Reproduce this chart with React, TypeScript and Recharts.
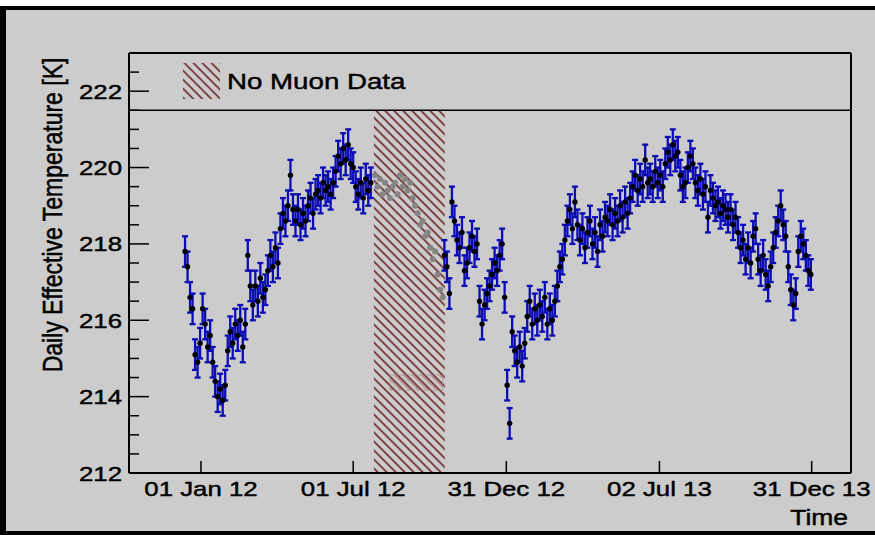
import React from 'react';
import {
  ScatterChart,
  Scatter,
  XAxis,
  YAxis,
  ErrorBar,
  ReferenceArea,
  ReferenceLine
} from 'recharts';

// days counted from 01 Jan 2012, one reading every 3 days
const STEP_DAYS = 3;

const firstRunStart = -19;
const firstRunTemp = [
  217.8, 217.4, 216.6, 216.3, 215.1, 214.9, 215.4, 216.3, 215.9, 215.3,
  215.6, 214.9, 214.4, 214.0, 214.2, 213.9, 214.3, 215.2, 215.7, 215.4,
  215.9, 215.6, 216.0, 215.3, 215.9, 217.7, 216.9, 216.4, 216.9, 216.5,
  217.1, 216.6, 216.8, 217.3, 217.7, 217.4, 217.9, 217.5, 218.4, 218.8,
  218.6, 219.0, 219.8, 218.9, 218.6, 218.9, 218.5, 218.8, 218.6, 219.0,
  219.2, 218.8, 219.3, 219.4, 219.2, 219.6, 219.4, 219.5, 219.3, 219.6,
  219.9, 220.3, 220.1, 220.5, 220.2, 220.6, 220.1, 220.0, 219.5, 219.3,
  219.6, 219.2, 219.7, 219.4, 219.6
];

// model values while the muon detector was off
const noMuonStart = 208;
const noMuonTemp = [
  219.8, 219.5, 219.7, 219.3, 219.6, 219.4, 219.2, 219.5, 219.6, 219.3,
  219.8, 219.5, 219.7, 219.4, 219.6, 219.2, 219.0, 218.8, 218.5, 218.6,
  218.2, 218.3, 217.9, 217.6, 217.8, 217.2, 216.8, 216.6
];

const secondRunStart = 291;
const secondRunTemp = [
  217.7, 217.4, 216.7, 219.1, 218.6, 218.1, 217.9, 218.3, 217.3, 217.5,
  217.9, 218.2, 217.8, 218.0, 216.5, 215.9, 216.4, 216.7, 216.9, 217.2,
  217.5, 217.3, 217.7, 218.0, 216.6, 214.3, 213.3, 215.7, 215.2, 214.9,
  215.3, 214.8, 215.4, 216.1, 216.5, 215.9, 216.3, 216.0, 216.4, 216.1,
  216.6, 215.9, 216.3, 216.0, 216.5, 216.9, 217.4, 217.6, 218.1, 218.6,
  218.9, 218.4, 219.1, 218.5, 218.1, 218.4, 217.9, 218.3, 218.6, 218.0,
  218.3, 217.8, 218.5, 218.2, 218.7, 218.6, 218.9, 218.5, 218.8, 218.6,
  219.0, 218.7, 219.1, 218.8, 219.2, 219.5, 219.8, 219.4, 219.7, 219.5,
  220.2, 219.6, 219.7, 219.5, 219.9, 219.6, 219.8, 219.5, 220.1, 220.4,
  220.2, 220.6, 220.3, 220.4, 219.8, 219.5, 219.6, 220.0, 220.3, 220.1,
  219.6, 219.4, 219.7, 219.3, 219.5, 218.7, 219.4, 219.2, 219.0, 219.1,
  218.8, 219.0, 218.9, 218.7, 218.9, 218.5, 218.7, 218.3, 217.9, 218.1,
  217.6, 217.9, 217.5, 218.2, 218.4, 217.6, 217.3, 217.7, 217.2, 216.9,
  217.4, 217.9, 218.3, 218.6, 219.0, 218.5, 218.2, 217.4, 216.8, 216.4,
  216.7, 217.8, 218.2, 218.0, 217.7, 217.3, 217.2
];

const tempError = 0.4;
const dayError = 1.2;

const xTicks = [0, 182, 365, 548, 730];
const xTickLabels = ['01 Jan 12', '01 Jul 12', '31 Dec 12', '02 Jul 13', '31 Dec 13'];
const yTicks = [
  212, 212.5, 213, 213.5, 214, 214.5, 215, 215.5, 216, 216.5, 217,
  217.5, 218, 218.5, 219, 219.5, 220, 220.5, 221, 221.5, 222, 222.5, 223
];
const yLabelTicks = [212, 214, 216, 218, 220, 222];

const noMuonDays = [206.7, 291.5];

const toPoints = (start: number, temps: number[]) =>
  temps.map((t, i) => ({ day: start + i * STEP_DAYS, t, err: tempError, dayErr: dayError }));

const measured = [
  ...toPoints(firstRunStart, firstRunTemp),
  ...toPoints(secondRunStart, secondRunTemp)
];
const noMuon = toPoints(noMuonStart, noMuonTemp);

const FONT = '"Liberation Sans", Arial, Helvetica, sans-serif';
const SX = 1.23; // the plot text is drawn a bit wide
const PLOT_LEFT = 129;
const PLOT_BOTTOM = 473;
const textStyle = { fontFamily: FONT, fill: '#000', stroke: '#000', strokeWidth: 0.45 };

const YTick = (props: any) => {
  const { y, payload } = props;
  const v = payload.value;
  const major = yLabelTicks.includes(v);
  return (
    <g>
      <line x1={PLOT_LEFT} x2={PLOT_LEFT + (major ? 20 : 10)} y1={y} y2={y} stroke="#000" strokeWidth={1.5} />
      {major && (
        <text
          transform={`translate(122,${y}) scale(${SX},1)`}
          textAnchor="end"
          dy="0.36em"
          fontSize={21}
          style={textStyle}
        >
          {v}
        </text>
      )}
    </g>
  );
};

const XTick = (props: any) => {
  const { x, payload } = props;
  const label = xTickLabels[xTicks.indexOf(payload.value)];
  return (
    <g>
      <line x1={x} x2={x} y1={PLOT_BOTTOM} y2={PLOT_BOTTOM - 12} stroke="#000" strokeWidth={1.5} />
      <text
        transform={`translate(${x},496) scale(${SX},1)`}
        textAnchor="middle"
        fontSize={21}
        style={textStyle}
      >
        {label}
      </text>
    </g>
  );
};

export default function App() {
  return (
    <div style={{ position: 'absolute', left: 0, top: 0, width: 875, height: 535, background: '#fff' }}>
      <svg width={0} height={0} style={{ position: 'absolute' }}>
        <defs>
          <pattern id="noMuonHatch" patternUnits="userSpaceOnUse" width={6.36} height={6.36} patternTransform="rotate(-45)">
            <line x1={3.18} y1={0} x2={3.18} y2={6.36} stroke="#5e1010" strokeWidth={1.5} />
          </pattern>
          <pattern id="noMuonHatch2" patternUnits="userSpaceOnUse" width={6.36} height={6.36} patternTransform="rotate(-45)">
            <line x1={1.2} y1={0} x2={1.2} y2={6.36} stroke="#8a2020" strokeWidth={1} />
          </pattern>
        </defs>
      </svg>
      <div
        style={{
          position: 'absolute',
          left: 0,
          top: 6,
          width: 875,
          height: 529,
          boxSizing: 'border-box',
          background: '#cccccc',
          borderLeft: '6px solid #000',
          borderTop: '4px solid #000',
          borderBottom: '4px solid #000'
        }}
      />
      <div style={{ position: 'absolute', left: 0, top: 0 }}>
        <ScatterChart width={875} height={535} margin={{ top: 53, right: 24, bottom: 12, left: 8 }}>
          <XAxis
            type="number"
            dataKey="day"
            domain={[-86, 777]}
            ticks={xTicks}
            interval={0}
            tick={<XTick />}
            tickLine={false}
            axisLine={{ stroke: '#000', strokeWidth: 2 }}
            height={50}
            allowDataOverflow
          />
          <YAxis
            type="number"
            dataKey="t"
            domain={[212, 223]}
            ticks={yTicks}
            interval={0}
            tick={<YTick />}
            tickLine={false}
            axisLine={{ stroke: '#000', strokeWidth: 2 }}
            width={121}
            allowDataOverflow
          />
          <ReferenceArea
            x1={noMuonDays[0]}
            x2={noMuonDays[1]}
            y1={212}
            y2={221.5}
            fill="url(#noMuonHatch)"
            fillOpacity={1}
            stroke="none"
          />
          <ReferenceArea
            x1={226}
            x2={289}
            y1={214.17}
            y2={214.57}
            fill="url(#noMuonHatch2)"
            fillOpacity={0.5}
            stroke="#a88080"
            strokeOpacity={0.5}
            strokeWidth={1}
          />
          <ReferenceLine y={221.5} stroke="#000" strokeWidth={1.5} />
          <ReferenceLine y={223} stroke="#000" strokeWidth={2} />
          <ReferenceLine x={777} stroke="#000" strokeWidth={2} />
          <Scatter
            data={noMuon}
            isAnimationActive={false}
            shape={(p: any) => <circle cx={p.cx} cy={p.cy} r={3} fill="#858585" />}
          />
          <Scatter
            data={measured}
            isAnimationActive={false}
            shape={(p: any) => <circle cx={p.cx} cy={p.cy} r={2.7} fill="#000" />}
          >
            <ErrorBar dataKey="err" direction="y" width={3} stroke="#0c0cb4" strokeWidth={2.3} isAnimationActive={false} />
            <ErrorBar dataKey="dayErr" direction="x" width={0} stroke="#0c0cb4" strokeWidth={1.5} isAnimationActive={false} />
          </Scatter>
        </ScatterChart>
      </div>
      <svg width={875} height={535} style={{ position: 'absolute', left: 0, top: 0, pointerEvents: 'none' }}>
        <text
          transform={`translate(62,215) scale(${SX},1) rotate(-90)`}
          textAnchor="middle"
          fontSize={23}
          style={textStyle}
        >
          Daily Effective Temperature [K]
        </text>
        <rect x={183} y={63} width={37} height={36} fill="url(#noMuonHatch)" />
        <text transform={`translate(227,89) scale(${SX},1)`} fontSize={22.5} style={textStyle}>
          No Muon Data
        </text>
        <text
          transform={`translate(848,525) scale(${SX},1)`}
          textAnchor="end"
          fontSize={21.5}
          style={textStyle}
        >
          Time
        </text>
      </svg>
    </div>
  );
}
